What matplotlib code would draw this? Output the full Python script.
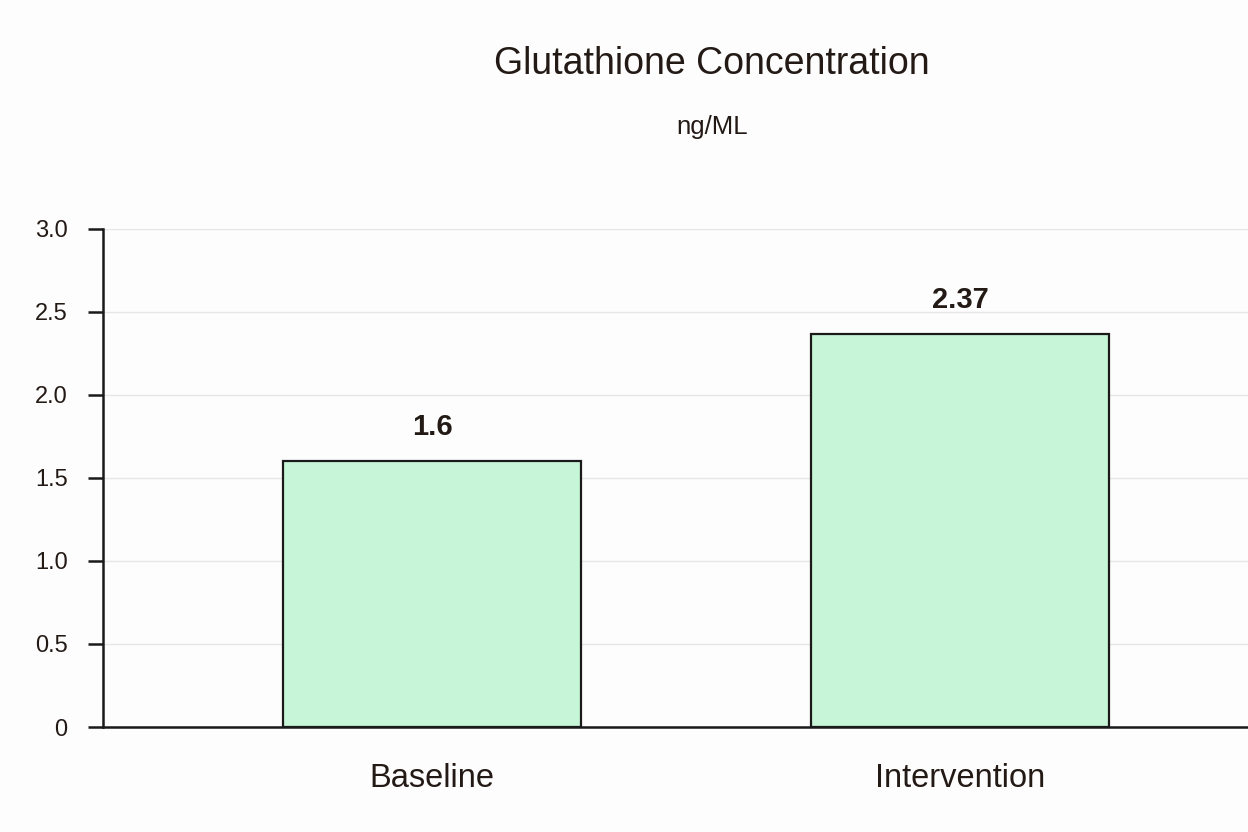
import matplotlib.pyplot as plt
import numpy as np

plt.rcParams['font.family'] = ['Liberation Sans', 'DejaVu Sans']

# data
groups = ['Baseline', 'Intervention']
values = [1.6, 2.37]
yticks = [0, 0.5, 1.0, 1.5, 2.0, 2.5, 3.0]
ytick_labels = ['0', '0.5', '1.0', '1.5', '2.0', '2.5', '3.0']

text_col = '#231a16'

fig = plt.figure(figsize=(12.48, 8.32), dpi=100)
fig.patch.set_facecolor('#fdfdfd')
ax = fig.add_axes([0.0825, 0.1262, 0.9175, 0.5986])
ax.set_facecolor('#fdfdfd')

x = np.arange(len(groups))
bars = ax.bar(x, values, width=0.564, color='#c6f5d8', edgecolor='#1a1a1a',
              linewidth=1.6, zorder=3)

for xi, v in zip(x, values):
    ax.text(xi, v + 0.12, f'{v:g}', ha='center', va='bottom',
            fontsize=21, fontweight='bold', color=text_col, zorder=4)

ax.set_xlim(-0.623, 1.545)
ax.set_ylim(0, 3.0)
ax.set_yticks(yticks)
ax.set_yticklabels(ytick_labels)
ax.set_xticks(x)
ax.set_xticklabels(groups)

ax.yaxis.grid(True, color='#e6e6e6', linewidth=1, zorder=0)
ax.set_axisbelow(True)

for s in ['top', 'right']:
    ax.spines[s].set_visible(False)
for s in ['left', 'bottom']:
    ax.spines[s].set_linewidth(1.8)
    ax.spines[s].set_color('#1a1a1a')

ax.tick_params(axis='y', length=11, width=1.8, color='#1a1a1a',
               labelsize=17, labelcolor=text_col, pad=14.5)
ax.tick_params(axis='x', length=0, labelsize=23.5, labelcolor=text_col, pad=26)

fig.text(0.5705, 0.923, 'Glutathione Concentration', ha='center', va='center',
         fontsize=27, color=text_col)
fig.text(0.5705, 0.847, 'ng/ML', ha='center', va='center',
         fontsize=18.5, color=text_col)

plt.savefig('out.png', dpi=100, facecolor=fig.get_facecolor())
